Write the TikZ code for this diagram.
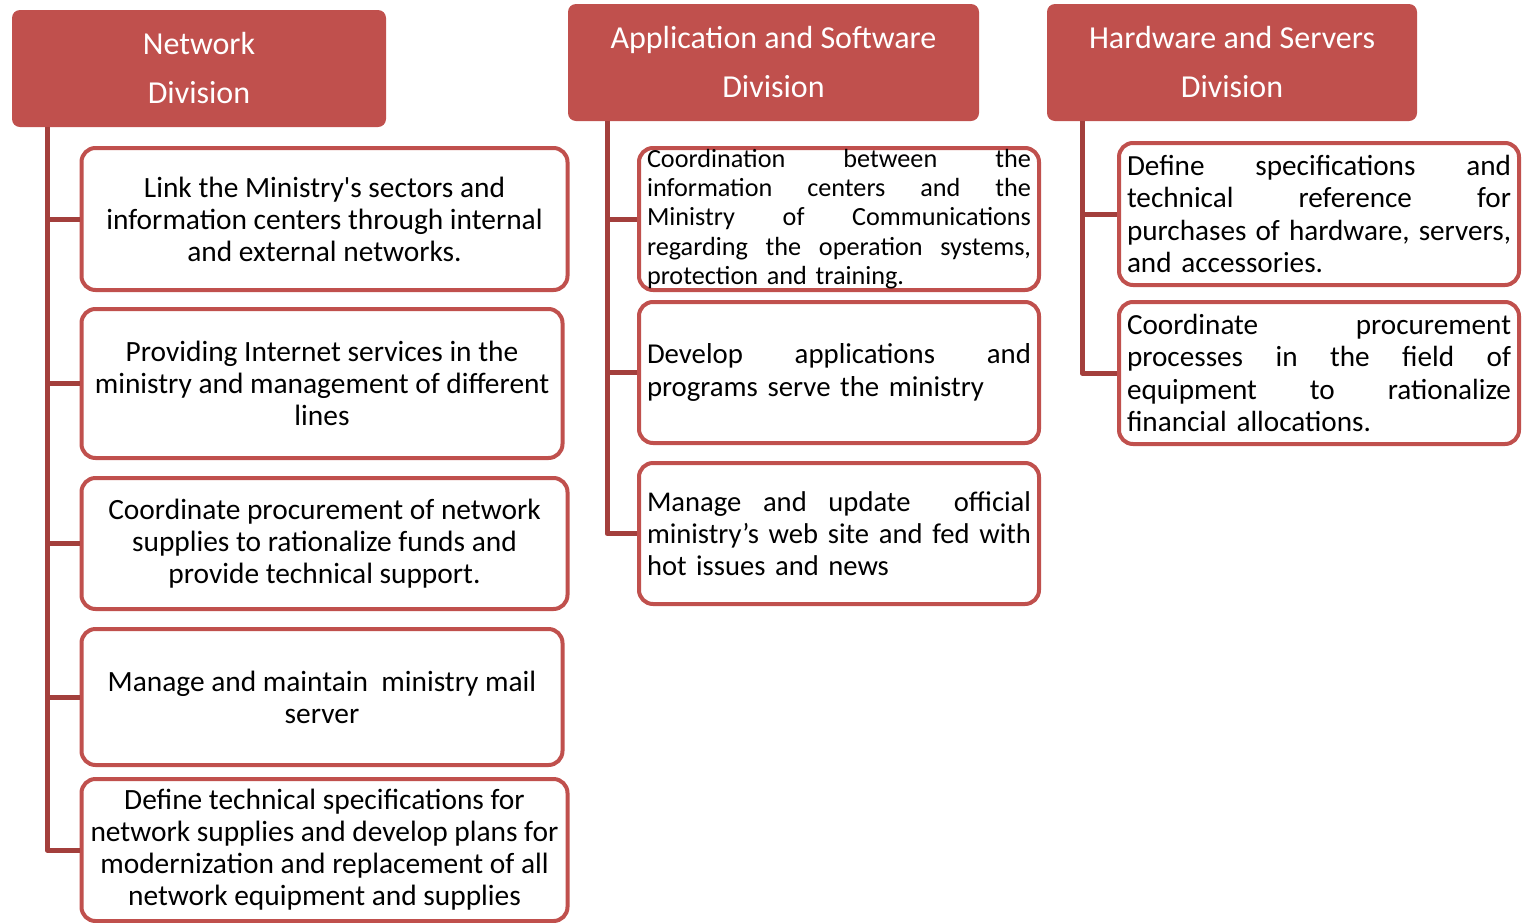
\documentclass[tikz,border=0pt]{standalone}
\usepackage{fontspec}
\setmainfont{Carlito}
\definecolor{hdr}{HTML}{C0504D}
\definecolor{conn}{HTML}{A33F3C}
\begin{document}
\begin{tikzpicture}[x=0.5pt,y=-0.5pt,
 hdrbox/.style={fill=hdr, draw=none, rounded corners=4pt, text=white, font=\fontsize{16}{24.5}\selectfont, align=center, inner sep=0pt},
 itembox/.style={draw=hdr, line width=2pt, rounded corners=7pt, fill=white, inner sep=0pt, align=center, font=\fontsize{14.7}{16}\selectfont},
 jbox/.style={itembox, align=left, text width=192pt, minimum width=200pt},
 conline/.style={draw=conn, line width=2.5pt, line join=round}]
\useasboundingbox (0,0) rectangle (1522,922);

% headers
\node[hdrbox, minimum width=187pt, minimum height=58.5pt] (h1) at (199,68.5) {Network\\Division};
\node[hdrbox, minimum width=205.5pt, minimum height=58.5pt] (h2) at (773.5,62.5) {Application and Software\\Division};
\node[hdrbox, minimum width=185pt, minimum height=58.5pt] (h3) at (1232,62.5) {Hardware and Servers\\Division};

% network boxes
\node[itembox, minimum width=243pt, minimum height=71pt] (b1) at (324.5,219) {Link the Ministry\textquotesingle s sectors and\\information centers through internal\\and external networks.};
\node[itembox, minimum width=240.5pt, minimum height=74.5pt] (b2) at (322,383.5) {Providing Internet services in the\\ministry and management of different\\lines};
\node[itembox, minimum width=243pt, minimum height=65.5pt] (b3) at (324.5,543.5) {Coordinate procurement of network\\supplies to rationalize funds and\\provide technical support.};
\node[itembox, minimum width=240.5pt, minimum height=68pt] (b4) at (322,697) {Manage and maintain\ \ ministry mail\\server};
\node[itembox, minimum width=243pt, minimum height=71pt] (b5) at (324.5,850) {Define technical specifications for\\network supplies and develop plans for\\modernization and replacement of all\\network equipment and supplies};

% application boxes
\node[jbox, minimum height=71pt, font=\fontsize{13.1}{14.6}\selectfont] (a1) at (839,219) {Coordination\hfill between\hfill the\\information\hfill centers\hfill and\hfill the\\Ministry\hfill of\hfill Communications\\regarding\hfill the\hfill operation\hfill systems,\\protection and training.};
\node[jbox, minimum height=70.5pt, font=\fontsize{14.4}{16.5}\selectfont] (a2) at (839,372.5) {Develop\hfill applications\hfill and\\programs serve the ministry};
\node[jbox, minimum height=70.5pt, font=\fontsize{14.3}{16}\selectfont] (a3) at (839,533.5) {Manage\hfill and\hfill update\hfill\hfill official\\ministry’s\hfill web\hfill site\hfill and\hfill fed\hfill with\\hot issues and news};

% hardware boxes
\node[jbox, minimum height=71pt, font=\fontsize{14.6}{16.2}\selectfont] (c1) at (1319,214) {Define\hfill specifications\hfill and\\technical\hfill reference\hfill for\\purchases\hfill of\hfill hardware,\hfill servers,\\and accessories.};
\node[jbox, minimum height=71pt, font=\fontsize{14.6}{16.2}\selectfont] (c2) at (1319,373) {Coordinate\hfill procurement\\processes\hfill in\hfill the\hfill field\hfill of\\equipment\hfill to\hfill rationalize\\financial allocations.};

% connectors
\coordinate (n0) at (h1.south -| 47,0);
\coordinate (p0) at (h2.south -| 607,0);
\coordinate (q0) at (h3.south -| 1082,0);
\draw[conline] (n0) |- (b5.west);
\foreach \b in {b1,b2,b3,b4} \draw[conline] (n0 |- \b.west) -- (\b.west);
\draw[conline] (p0) |- (a3.west);
\foreach \b in {a1,a2} \draw[conline] (p0 |- \b.west) -- (\b.west);
\draw[conline] (q0) |- (c2.west);
\draw[conline] (q0 |- c1.west) -- (c1.west);
\end{tikzpicture}
\end{document}
